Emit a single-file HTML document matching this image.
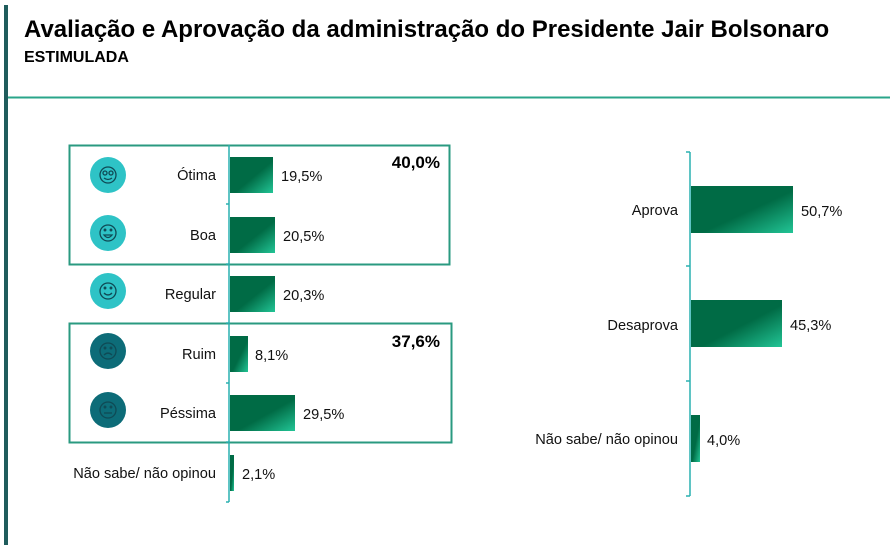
<!DOCTYPE html>
<html><head><meta charset="utf-8"><style>
html,body{margin:0;padding:0;background:#fff;}
svg{display:block;font-family:"Liberation Sans",Arial,sans-serif;}
</style></head><body>
<svg width="894" height="554" viewBox="0 0 894 554" xmlns="http://www.w3.org/2000/svg">
<defs>
<linearGradient id="g" x1="0" y1="0" x2="1" y2="1">
<stop offset="0" stop-color="#006b45"/><stop offset="0.55" stop-color="#006b45"/><stop offset="1" stop-color="#22c596"/>
</linearGradient>
</defs>
<rect x="4" y="5" width="4" height="540" fill="#1f5c5c"/>
<text x="24" y="37" font-size="24" font-weight="bold" fill="#000">Avaliação e Aprovação da administração do Presidente Jair Bolsonaro</text>
<text x="24" y="62" font-size="16" font-weight="bold" fill="#000">ESTIMULADA</text>
<line x1="8" y1="97.5" x2="890" y2="97.5" stroke="#2aa58a" stroke-width="2"/>

<rect x="69.5" y="145.5" width="380" height="119" fill="none" stroke="#2a9a80" stroke-width="2"/>
<rect x="69.5" y="323.5" width="382" height="119" fill="none" stroke="#2a9a80" stroke-width="2"/>
<text x="440" y="168" font-size="17" font-weight="bold" text-anchor="end">40,0%</text>
<text x="440" y="347" font-size="17" font-weight="bold" text-anchor="end">37,6%</text>

<g stroke="#2ab0b0" stroke-width="1.5">
<line x1="229" y1="145" x2="229" y2="502"/>
<line x1="226" y1="204" x2="229" y2="204"/><line x1="226" y1="264" x2="229" y2="264"/>
<line x1="226" y1="323" x2="229" y2="323"/><line x1="226" y1="383" x2="229" y2="383"/>
<line x1="226" y1="442" x2="229" y2="442"/><line x1="226" y1="502" x2="229" y2="502"/>
</g>
<g fill="url(#g)">
<rect x="230" y="157" width="43" height="36"/>
<rect x="230" y="217" width="45" height="36"/>
<rect x="230" y="276" width="45" height="36"/>
<rect x="230" y="336" width="18" height="36"/>
<rect x="230" y="395" width="65" height="36"/>
<rect x="230" y="455" width="4" height="36"/>
</g>
<g font-size="14.6" fill="#111" text-anchor="end">
<text x="216" y="180">Ótima</text>
<text x="216" y="240">Boa</text>
<text x="216" y="299">Regular</text>
<text x="216" y="359">Ruim</text>
<text x="216" y="418">Péssima</text>
<text x="216" y="478">Não sabe/ não opinou</text>
</g>
<g font-size="14.6" fill="#111">
<text x="281" y="181">19,5%</text>
<text x="283" y="241">20,5%</text>
<text x="283" y="300">20,3%</text>
<text x="255" y="360">8,1%</text>
<text x="303" y="419">29,5%</text>
<text x="242" y="479">2,1%</text>
</g>
<g stroke="#0f4a55" stroke-width="1.3" fill="none">
<circle cx="108" cy="175" r="18" fill="#2ec3c6" stroke="none"/>
<circle cx="108" cy="175" r="8"/><circle cx="105" cy="173" r="2"/><circle cx="111" cy="173" r="2"/><path d="M104 178 q4 3 8 0"/>
<circle cx="108" cy="233" r="18" fill="#2ec3c6" stroke="none"/>
<circle cx="108" cy="233" r="8"/><path d="M104 235 h8 q-4 5 -8 0z"/><circle cx="105" cy="230" r="0.8"/><circle cx="111" cy="230" r="0.8"/>
<circle cx="108" cy="291" r="18" fill="#2ec3c6" stroke="none"/>
<circle cx="108" cy="291" r="8"/><path d="M104 293 q4 4 8 0"/><circle cx="105" cy="288" r="0.8"/><circle cx="111" cy="288" r="0.8"/>
<circle cx="108" cy="351" r="18" fill="#0d6c78" stroke="none"/>
<circle cx="108" cy="351" r="8"/><path d="M104 355 q4 -4 8 0"/><circle cx="105" cy="348" r="0.8"/><circle cx="111" cy="348" r="0.8"/>
<circle cx="108" cy="410" r="18" fill="#0d6c78" stroke="none"/>
<circle cx="108" cy="410" r="8"/><path d="M104 413 h8"/><circle cx="105" cy="407" r="0.8"/><circle cx="111" cy="407" r="0.8"/>
</g>

<g stroke="#2ab0b0" stroke-width="1.5">
<line x1="690" y1="152" x2="690" y2="496"/>
<line x1="686" y1="152" x2="690" y2="152"/><line x1="686" y1="266" x2="690" y2="266"/>
<line x1="686" y1="381" x2="690" y2="381"/><line x1="686" y1="496" x2="690" y2="496"/>
</g>
<g fill="url(#g)">
<rect x="691" y="186" width="102" height="47"/>
<rect x="691" y="300" width="91" height="47"/>
<rect x="691" y="415" width="9" height="47"/>
</g>
<g font-size="14.6" fill="#111" text-anchor="end">
<text x="678" y="215">Aprova</text>
<text x="678" y="330">Desaprova</text>
<text x="678" y="444">Não sabe/ não opinou</text>
</g>
<g font-size="14.6" fill="#111">
<text x="801" y="216">50,7%</text>
<text x="790" y="330">45,3%</text>
<text x="707" y="445">4,0%</text>
</g>
</svg>
</body></html>
